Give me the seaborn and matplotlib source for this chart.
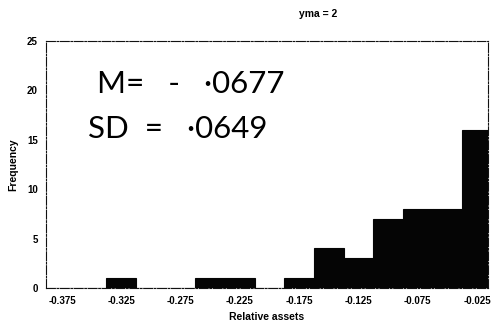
import numpy as np
import pandas as pd
import matplotlib
matplotlib.use("Agg")
import matplotlib.pyplot as plt
import seaborn as sns

# Histogram of relative assets (bin centres and frequencies)
bin_centers = [-0.375, -0.350, -0.325, -0.300, -0.275, -0.250, -0.225, -0.200,
               -0.175, -0.150, -0.125, -0.100, -0.075, -0.050, -0.025]
frequencies = [0, 0, 1, 0, 0, 1, 1, 0, 1, 4, 3, 7, 8, 8, 16]
x_ticks = [-0.375, -0.325, -0.275, -0.225, -0.175, -0.125, -0.075, -0.025]
y_ticks = [0, 5, 10, 15, 20, 25]
title_text = "yma = 2"
note_mean = "M=   -   \u22190677"
note_sd = "SD  =   \u22190649"

df = pd.DataFrame({"Relative assets": bin_centers, "Frequency": frequencies})

sns.set_theme(style="white")
plt.rcParams["font.family"] = ["Liberation Sans", "DejaVu Sans"]
plt.rcParams["text.color"] = "black"
plt.rcParams["axes.labelcolor"] = "black"
plt.rcParams["xtick.color"] = "black"
plt.rcParams["ytick.color"] = "black"

fig = plt.figure(figsize=(4.96, 3.31), dpi=100)
ax = fig.add_axes([46 / 496, 1 - 288 / 331, (488 - 46) / 496, (288 - 41) / 331])

sns.histplot(data=df, x="Relative assets", weights="Frequency",
             binwidth=0.025, binrange=(-0.3875, -0.0125),
             stat="count", color="#050505", edgecolor="#050505", linewidth=0.8,
             alpha=1.0, ax=ax)

ax.set_xlim(-0.3885, -0.0157)
ax.set_ylim(0, 25)
ax.set_xticks(x_ticks)
ax.set_xticklabels([f"{v:.3f}" for v in x_ticks], fontsize=7, fontweight="bold")
ax.set_yticks(y_ticks)
ax.set_yticklabels([str(v) for v in y_ticks], fontsize=7, fontweight="bold")
ax.tick_params(axis="both", length=0, pad=6)
ax.set_xlabel("Relative assets", fontsize=7.5, fontweight="bold", labelpad=4)
ax.set_ylabel("Frequency", fontsize=7.5, fontweight="bold", labelpad=6)

for side in ["left", "right", "top", "bottom"]:
    ax.spines[side].set_visible(True)
    ax.spines[side].set_color("#111111")
    ax.spines[side].set_linewidth(0.8)
    ax.spines[side].set_linestyle((0, (8, 1.5, 1.5, 1.5)))

fig.text(318 / 496, 1 - 14 / 331, title_text, ha="center", va="center",
         fontsize=7.5, fontweight="bold")

ax.text(0.115, 0.825, note_mean, transform=ax.transAxes, ha="left", va="center",
        fontsize=22.5, family=["Lato", "DejaVu Sans"], fontweight="normal")
ax.text(0.095, 0.645, note_sd, transform=ax.transAxes, ha="left", va="center",
        fontsize=22.5, family=["Lato", "DejaVu Sans"], fontweight="normal")

fig.savefig("out.png", dpi=100)
